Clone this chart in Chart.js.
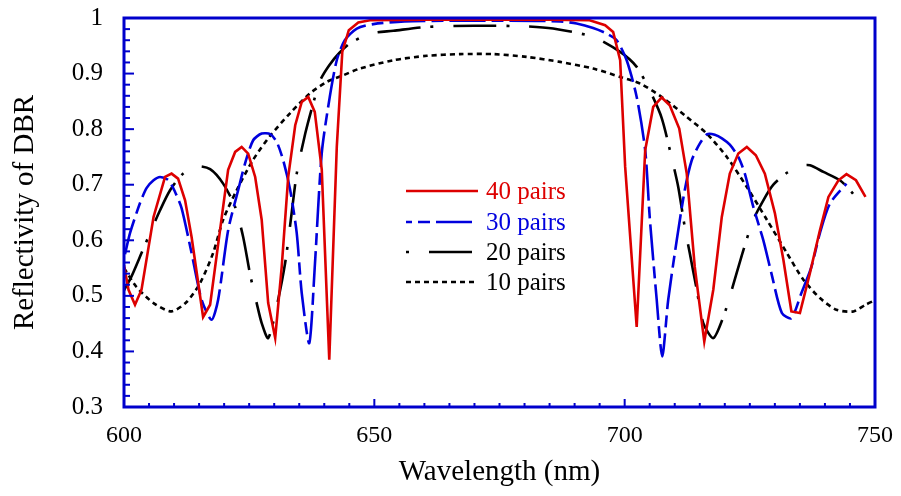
<!DOCTYPE html>
<html><head><meta charset="utf-8">
<script src="https://cdn.jsdelivr.net/npm/chart.js@4/dist/chart.umd.min.js"></script>
<style>html,body{margin:0;padding:0;background:#fff;}#wrap{width:901px;height:496px;}</style>
</head><body><div id="wrap"><canvas id="c" width="901" height="496"></canvas></div>
<script>
// ---- data ----
const seriesNames = ['40 pairs', '30 pairs', '20 pairs', '10 pairs'];
const xTickValues = [600, 650, 700, 750];
const yTickValues = [0.3, 0.4, 0.5, 0.6, 0.7, 0.8, 0.9, 1];

const wl40 = [600.0,600.9,602.2,603.5,605.9,608.2,609.5,610.8,612.2,613.5,615.8,617.2,619.8,620.8,622.2,623.5,624.8,626.2,627.5,628.8,630.2,631.5,632.8,634.2,635.5,636.8,638.1,639.5,641.0,642.5,643.6,644.9,646.8,649.1,660,672,685,693,696.1,697.7,699.1,700.1,702.4,704.1,705.7,707.4,709.0,710.9,712.4,714.0,715.9,717.7,719.4,721.0,722.7,724.4,726.2,728.0,730.0,731.7,733.3,735.0,737.0,739.0,740.7,742.7,744.3,746.2,748.1];
const r40  = [0.555,0.511,0.484,0.511,0.642,0.714,0.720,0.711,0.672,0.606,0.462,0.484,0.660,0.727,0.759,0.768,0.756,0.714,0.637,0.487,0.424,0.552,0.714,0.807,0.849,0.858,0.831,0.727,0.385,0.768,0.939,0.978,0.992,0.996,0.997,0.997,0.997,0.996,0.987,0.975,0.924,0.732,0.444,0.762,0.840,0.857,0.843,0.801,0.720,0.552,0.418,0.511,0.642,0.720,0.756,0.768,0.753,0.720,0.649,0.565,0.472,0.469,0.541,0.618,0.678,0.708,0.719,0.708,0.678];

const wl30 = [600.2,601.2,603.2,604.5,605.9,607.2,608.9,610.2,611.5,613.5,615.5,617.5,618.8,620.8,622.8,624.2,625.8,627.5,629.2,630.5,631.8,633.2,634.5,635.5,637.0,638.1,639.5,641.1,642.5,644.1,646.5,649.8,656,665,677,687.1,690.4,693.7,696.4,698.4,700.4,702.4,704.1,705.0,706.4,707.5,708.7,710.4,712.0,713.4,715.0,716.5,718.0,719.5,721.0,722.7,724.0,725.7,727.7,729.3,731.4,733.3,735.3,737.3,739.0,741.0,744.3];
const r30  = [0.575,0.613,0.667,0.694,0.708,0.714,0.708,0.687,0.658,0.577,0.493,0.457,0.493,0.618,0.690,0.739,0.780,0.792,0.791,0.777,0.744,0.690,0.613,0.505,0.415,0.552,0.757,0.858,0.924,0.960,0.981,0.989,0.994,0.995,0.995,0.994,0.990,0.982,0.972,0.960,0.924,0.858,0.762,0.642,0.493,0.391,0.493,0.600,0.690,0.744,0.774,0.791,0.790,0.783,0.772,0.750,0.720,0.660,0.600,0.541,0.469,0.460,0.505,0.552,0.613,0.666,0.702];

const wl20 = [600.0,601.5,603.5,605.2,607.2,609.2,611.8,614.5,617.2,619.8,622.2,623.8,625.2,626.5,627.5,628.8,630.5,632.2,633.5,634.5,636.2,637.6,639.2,641.0,643.0,645.1,649.1,653.8,660.5,670.0,680.4,685.7,693.7,699.1,702.4,705.0,707.4,709.4,710.7,712.0,713.0,714.4,715.7,717.7,719.7,721.4,723.7,725.7,727.7,729.7,732.5,735.3,737.0,739.7,743.0,745.5,748.0];
const r20  = [0.510,0.535,0.577,0.613,0.654,0.690,0.720,0.733,0.728,0.702,0.660,0.606,0.538,0.487,0.451,0.424,0.481,0.560,0.650,0.720,0.792,0.840,0.888,0.915,0.937,0.954,0.972,0.977,0.984,0.986,0.985,0.981,0.966,0.939,0.912,0.870,0.820,0.748,0.696,0.624,0.577,0.511,0.451,0.424,0.462,0.511,0.582,0.637,0.672,0.700,0.722,0.734,0.735,0.723,0.708,0.685,0.655];

const wl10 = [600.0,602.5,605.9,609.5,612.5,615.2,617.8,619.8,622.5,625.8,629.2,633.2,637.1,640.5,643.8,647.1,653.8,660.5,667.1,673.8,680.4,687.1,693.7,699.1,703.1,707.7,712.4,716.4,720.4,724.4,728.4,732.4,735.7,739.0,742.3,745.7,748.1,750.0];
const r10  = [0.550,0.516,0.487,0.472,0.489,0.523,0.577,0.637,0.690,0.745,0.788,0.829,0.864,0.885,0.897,0.909,0.924,0.932,0.935,0.935,0.930,0.921,0.909,0.894,0.882,0.856,0.822,0.792,0.750,0.696,0.637,0.577,0.529,0.496,0.475,0.472,0.484,0.492];

// ---- styles ----
const RED = '#dd0000', BLUE = '#0000dd', BLACK = '#000000', FRAME = '#0000cc';
const FONT = "'Liberation Serif', 'Times New Roman', serif";

const pts = (xs, ys) => xs.map((x, i) => ({x: x, y: ys[i]}));

const styles = [
  {color: RED,   dash: [],               text: RED,   tension: 0},
  {color: BLUE,  dash: [36, 6, 12, 6],   text: BLUE,  tension: 0.25},
  {color: BLACK, dash: [43, 10, 3, 20],  text: BLACK, tension: 0.25},
  {color: BLACK, dash: [5, 4],           text: BLACK, tension: 0.25},
];
const dataSets = [pts(wl40, r40), pts(wl30, r30), pts(wl20, r20), pts(wl10, r10)];

const datasets = dataSets.map((d, i) => ({
  label: seriesNames[i],
  data: d,
  borderColor: styles[i].color,
  backgroundColor: styles[i].color,
  borderWidth: 2.6,
  borderDash: styles[i].dash,
  pointRadius: 0,
  tension: styles[i].tension,
  fill: false,
}));

// frame, inward ticks, in-plot legend
const framePlugin = {
  id: 'frame',
  afterDatasetsDraw(chart) {
    const {ctx, chartArea: a, scales: {x, y}} = chart;
    ctx.save();
    ctx.strokeStyle = FRAME;
    ctx.lineWidth = 2;
    for (let v = 600; v <= 750; v += 5) {
      const px = x.getPixelForValue(v);
      const len = (v % 50 === 0) ? 8 : 4;
      ctx.beginPath(); ctx.moveTo(px, a.bottom); ctx.lineTo(px, a.bottom - len); ctx.stroke();
    }
    for (let k = 15; k <= 50; k++) {
      const v = k / 50;
      const py = y.getPixelForValue(v);
      const len = (k % 5 === 0) ? 10 : 6;
      ctx.beginPath(); ctx.moveTo(a.left, py); ctx.lineTo(a.left + len, py); ctx.stroke();
    }
    ctx.lineWidth = 3;
    ctx.strokeRect(a.left, a.top, a.right - a.left, a.bottom - a.top);

    // legend
    const lx0 = 406, lx1 = 478, tx = 486;
    const rows = [191, 222, 252, 282];
    chart.data.datasets.forEach((ds, i) => {
      ctx.save();
      ctx.strokeStyle = ds.borderColor;
      ctx.lineWidth = 2.6;
      ctx.setLineDash(ds.borderDash || []);
      if (i === 1) ctx.lineDashOffset = 30;
      if (i === 2) ctx.lineDashOffset = 53;
      ctx.beginPath(); ctx.moveTo(lx0, rows[i]); ctx.lineTo(lx1, rows[i]); ctx.stroke();
      ctx.restore();
      ctx.fillStyle = styles[i].text;
      ctx.font = "25px " + FONT;
      ctx.textBaseline = 'middle';
      ctx.textAlign = 'left';
      ctx.fillText(ds.label, tx, rows[i] + 1);
    });
    ctx.restore();
  }
};

new Chart(document.getElementById('c'), {
  type: 'line',
  data: {datasets},
  options: {
    responsive: false,
    animation: false,
    layout: {padding: {top: 18, right: 26, bottom: 0, left: 0}},
    plugins: {legend: {display: false}, tooltip: {enabled: false}},
    scales: {
      x: {
        type: 'linear', min: 600, max: 750,
        afterFit(s) { s.height = 89; s.paddingLeft = 0; s.paddingRight = 0; },
        afterBuildTicks(s) { s.ticks = xTickValues.map(v => ({value: v})); },
        grid: {display: false, drawTicks: false},
        border: {display: false},
        ticks: {color: '#000', font: {family: FONT, size: 24}, padding: 14, maxRotation: 0,
                callback: v => String(v)},
        title: {display: true, text: 'Wavelength (nm)', color: '#000',
                font: {family: FONT, size: 29}, padding: {top: 0, bottom: 6}}
      },
      y: {
        type: 'linear', min: 0.3, max: 1,
        afterFit(s) { s.width = 124; s.paddingTop = 0; s.paddingBottom = 0; },
        afterBuildTicks(s) { s.ticks = yTickValues.map(v => ({value: v})); },
        grid: {display: false, drawTicks: false},
        border: {display: false},
        ticks: {color: '#000', font: {family: FONT, size: 25}, padding: 21,
                callback: v => String(Math.round(v * 10) / 10)},
        title: {display: true, text: 'Reflectivity of DBR', color: '#000',
                font: {family: FONT, size: 29}, padding: {top: 8, bottom: 0}}
      }
    }
  },
  plugins: [framePlugin]
});
</script></body></html>
